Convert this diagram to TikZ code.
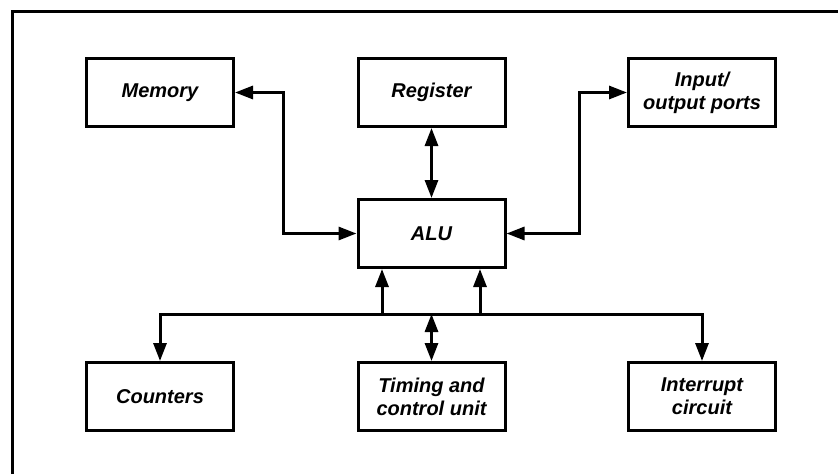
\documentclass[tikz,border=0pt]{standalone}
\usepackage{fontspec}
\setmainfont{Liberation Sans}
\usetikzlibrary{arrows.meta}
\begin{document}
\begin{tikzpicture}[x=1pt,y=-1pt,
  blk/.style={draw,line width=3pt,rectangle,minimum width=147pt,minimum height=68pt,
    inner sep=0pt,align=center,
    font=\fontsize{20}{23}\selectfont\bfseries\itshape},
  tip/.tip={Triangle[length=18pt,width=13pt]},
  wire/.style={line width=3pt,line join=miter},
  one/.style={wire,-tip},
  both/.style={wire,tip-tip}]
  \useasboundingbox (0,0) rectangle (838,474);
  % frame (top and left edges)
  \draw[line width=3pt] (12,474) -- (12,11) -- (838,11);

  % blocks
  \node[blk] (mem) at (160,92.5)   {Memory};
  \node[blk] (reg) at (431.5,92.5) {Register};
  \node[blk] (io)  at (702,92.5)   {Input/\\output ports};
  \node[blk] (alu) at (431.5,233.5) {ALU};
  \node[blk] (cnt) at (160,396.5)  {Counters};
  \node[blk] (tim) at (431.5,396.5) {Timing and\\control unit};
  \node[blk] (irq) at (702,396.5)  {Interrupt\\circuit};

  % ALU links
  \draw[both] (mem.east) -- ++(48,0) |- (alu.west);
  \draw[both] (reg.south) -- (alu.north);
  \draw[both] (alu.east) -- ++(73,0) |- (io.west);

  % lower bus
  \coordinate (busL) at (160,314);
  \coordinate (busR) at (702,314);
  \coordinate (tapA) at (382,314);
  \coordinate (tapB) at (480,314);
  \draw[both] (cnt.north) -- (busL) -- (busR) -- (irq.north);
  \draw[one] (tapA) -- (tapA |- alu.south);
  \draw[one] (tapB) -- (tapB |- alu.south);
  \draw[both] (tim.north |- busL) -- (tim.north);
\end{tikzpicture}
\end{document}
